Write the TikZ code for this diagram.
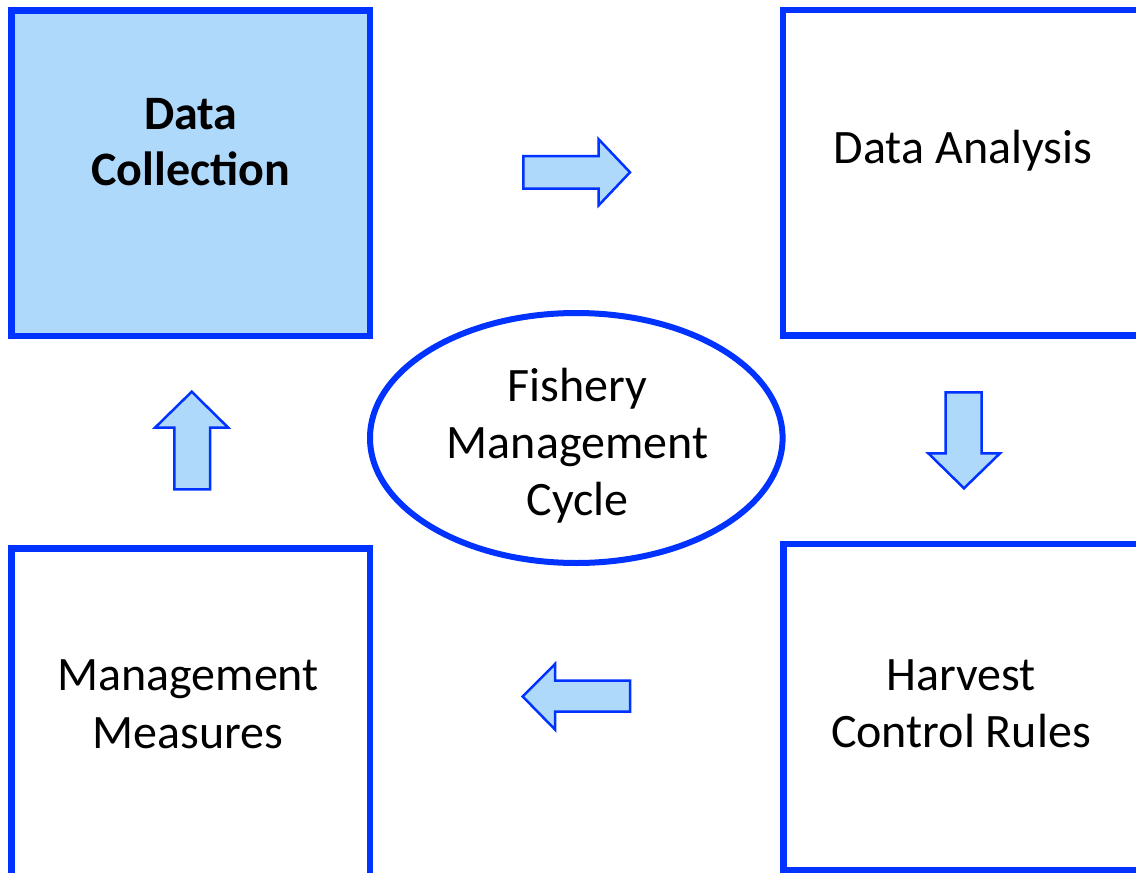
\documentclass[tikz,border=0pt]{standalone}
\usepackage{fontspec}
\setmainfont{Carlito}
\usetikzlibrary{shapes.geometric}
\definecolor{edgeblue}{RGB}{0,51,255}
\definecolor{fillblue}{RGB}{175,217,251}
\tikzset{
  box/.style={draw=edgeblue, line width=6.5pt, rectangle, inner sep=0pt},
  cyc/.style={draw=edgeblue, line width=6pt, ellipse, inner sep=0pt, fill=white},
  lbl/.style={font=\fontsize{48}{57.5}\selectfont, align=center, anchor=base, inner sep=0pt, text=black},
  blockarrow/.style={draw=edgeblue, fill=fillblue, line width=2.5pt, line join=miter}
}
\begin{document}
\begin{tikzpicture}[x=1pt,y=-1pt]
\useasboundingbox (0,0) rectangle (1136,873);
\begin{scope}
\clip (0,0) rectangle (1136,873);
% boxes
\node[box, fill=fillblue, minimum width=358.5pt, minimum height=325.5pt] (dc) at (190.75,173.25) {};
\node[box, minimum width=360pt, minimum height=325.5pt] (da) at (963,172.75) {};
\node[box, minimum width=358.5pt, minimum height=328pt] (mm) at (190.75,712.5) {};
\node[box, minimum width=359.5pt, minimum height=326pt] (hc) at (963.25,707) {};
% centre ellipse
\node[cyc, minimum width=412.6pt, minimum height=250pt] (fmc) at (576.3,438) {};
% labels (anchor=base is the baseline of the last line)
\node[lbl, font=\fontsize{48}{56}\selectfont\bfseries] (tdc) at (190.75,185.5) {Data\\Collection};
\node[lbl] (tda) at (963,163) {Data Analysis};
\node[lbl] (tmm) at (188,748) {Management\\Measures};
\node[lbl] (thc) at (961,747.5) {Harvest\\Control Rules};
\node[lbl, font=\fontsize{48}{56.6}\selectfont] (tfmc) at (577.5,515) {Fishery\\Management\\Cycle};
% block arrows
\draw[blockarrow] (523.3,156) -- (598.7,156) -- (598.7,139.3) -- (630,172.3) -- (598.7,205.3) -- (598.7,188.6) -- (523.3,188.6) -- cycle;
\draw[blockarrow] (945.7,392.3) -- (981.7,392.3) -- (981.7,453.3) -- (1000,453.3) -- (964,488.3) -- (928.3,453.3) -- (945.7,453.3) -- cycle;
\draw[blockarrow] (630,680.7) -- (555,680.7) -- (555,664) -- (522.7,696.5) -- (555,729.5) -- (555,711.7) -- (630,711.7) -- cycle;
\draw[blockarrow] (174.3,489.3) -- (174.3,427.7) -- (155,427.7) -- (191.7,391.7) -- (228.3,427.7) -- (210,427.7) -- (210,489.3) -- cycle;
\end{scope}
\end{tikzpicture}
\end{document}
